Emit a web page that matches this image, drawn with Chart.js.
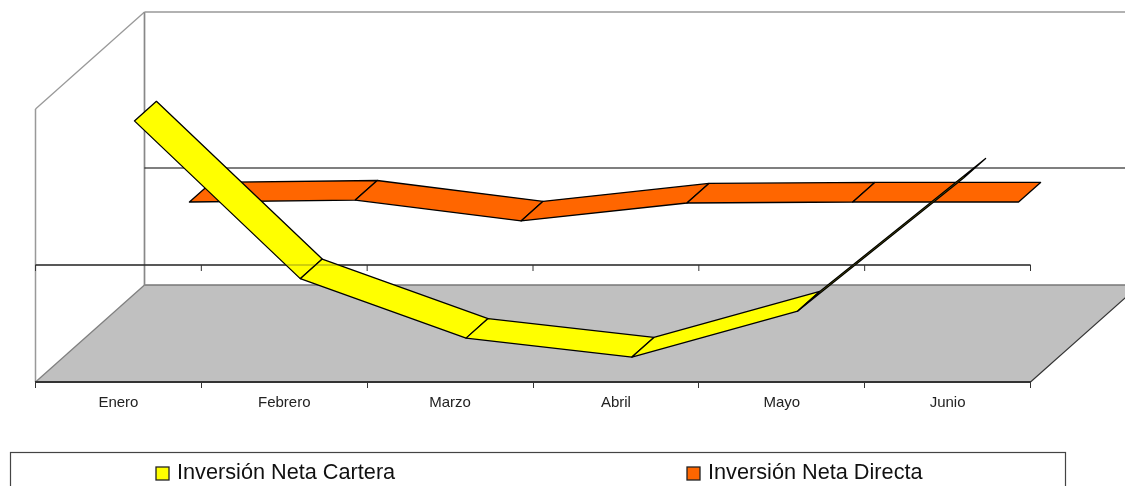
<!DOCTYPE html>
<html lang="es">
<head>
<meta charset="utf-8">
<title>Inversión Neta</title>
<script src="https://cdn.jsdelivr.net/npm/chart.js@4/dist/chart.umd.min.js"></script>
<style>
  html, body { margin: 0; padding: 0; background: #fff; overflow: hidden; }
  canvas { display: block; }
</style>
</head>
<body>
<canvas id="grafico" width="1125" height="486"></canvas>
<script>
const meses = ['Enero', 'Febrero', 'Marzo', 'Abril', 'Mayo', 'Junio'];
const inversionCartera = [3330, -715, -2240, -2725, -1545, 1865];
const inversionDirecta = [-5, 45, -490, -30, -5, -5];

// Profundidad del efecto 3D en pixeles
const fondoX = 109;
const fondoY = 97;
const pendiente = fondoY / fondoX;

const FUENTE = '"Liberation Sans", Arial, sans-serif';

function poligono(ctx, puntos, relleno, borde, grosor) {
  ctx.beginPath();
  puntos.forEach((p, i) => (i === 0 ? ctx.moveTo(p[0], p[1]) : ctx.lineTo(p[0], p[1])));
  ctx.closePath();
  if (relleno) {
    ctx.fillStyle = relleno;
    ctx.fill();
  }
  if (borde) {
    ctx.strokeStyle = borde;
    ctx.lineWidth = grosor;
    ctx.stroke();
  }
}

function linea(ctx, x1, y1, x2, y2, color, grosor) {
  ctx.beginPath();
  ctx.moveTo(x1, y1);
  ctx.lineTo(x2, y2);
  ctx.strokeStyle = color;
  ctx.lineWidth = grosor;
  ctx.stroke();
}

// Paredes y piso
const paredes = {
  id: 'paredes',
  beforeDraw(chart) {
    const { ctx, chartArea: a, scales } = chart;
    const cero = scales.y.getPixelForValue(0);
    ctx.save();
    poligono(ctx, [
      [a.left, a.bottom],
      [a.left + fondoX, a.bottom - fondoY],
      [a.right + fondoX, a.bottom - fondoY],
      [a.right, a.bottom]
    ], '#C0C0C0');
    linea(ctx, a.left, a.bottom, a.left + fondoX, a.bottom - fondoY, '#808080', 1.3);
    linea(ctx, a.left + fondoX, a.bottom - fondoY, a.right + fondoX, a.bottom - fondoY, '#777', 1.6);
    linea(ctx, a.right, a.bottom, a.right + fondoX, a.bottom - fondoY, '#333', 1.1);
    // pared izquierda
    linea(ctx, a.left, a.bottom, a.left, a.top, '#999', 1.5);
    linea(ctx, a.left, a.top, a.left + fondoX, a.top - fondoY, '#999', 1.3);
    // pared del fondo
    linea(ctx, a.left + fondoX, a.top - fondoY, a.left + fondoX, a.bottom - fondoY, '#888', 1.7);
    linea(ctx, a.left + fondoX, a.top - fondoY, a.right + fondoX, a.top - fondoY, '#999', 1.5);
    linea(ctx, a.left + fondoX, cero - fondoY, a.right + fondoX, cero - fondoY, '#000', 1.1);
    ctx.restore();
  },
  beforeDatasetsDraw(chart) {
    const { ctx, chartArea: a, scales } = chart;
    const cero = scales.y.getPixelForValue(0);
    ctx.save();
    linea(ctx, a.left, cero, a.right, cero, '#333', 1.6);
    const ancho = (a.right - a.left) / meses.length;
    for (let i = 0; i <= meses.length; i++) {
      linea(ctx, a.left + ancho * i, cero, a.left + ancho * i, cero + 6, '#333', 1);
    }
    ctx.restore();
  }
};

// Cintas 3D: cada serie se dibuja a su propia profundidad
const cintas = {
  id: 'cintas',
  afterDatasetsDraw(chart) {
    const { ctx, chartArea: a, scales } = chart;
    ctx.save();
    ctx.lineJoin = 'round';
    chart.data.datasets.slice().reverse().forEach(ds => {
      const frente = ds.data.map((v, i) => [
        scales.x.getPixelForValue(i) + ds.desde,
        scales.y.getPixelForValue(v) - ds.desde * pendiente
      ]);
      const atras = ds.data.map((v, i) => [
        scales.x.getPixelForValue(i) + ds.hasta,
        scales.y.getPixelForValue(v) - ds.hasta * pendiente
      ]);
      for (let i = 0; i < frente.length - 1; i++) {
        poligono(ctx, [frente[i], frente[i + 1], atras[i + 1], atras[i]], ds.backgroundColor, '#000', 1.3);
      }
    });
    // el eje se transparenta un poco sobre la cinta
    const cero = scales.y.getPixelForValue(0);
    linea(ctx, a.left, cero, a.right, cero, 'rgba(40,40,40,0.3)', 1.5);
    ctx.restore();
  }
};

// Leyenda con marco, cortada por el borde inferior como en el original
const leyenda = {
  id: 'leyenda',
  afterDraw(chart) {
    const { ctx, data } = chart;
    ctx.save();
    ctx.strokeStyle = '#444';
    ctx.lineWidth = 1.2;
    ctx.strokeRect(10.5, 452.5, 1055, 50);
    ctx.font = '21.7px ' + FUENTE;
    ctx.textBaseline = 'middle';
    ctx.textAlign = 'left';
    const posiciones = [156, 687];
    data.datasets.forEach((ds, i) => {
      const x = posiciones[i];
      ctx.fillStyle = ds.backgroundColor;
      ctx.fillRect(x, 467, 13, 13);
      ctx.strokeStyle = '#222';
      ctx.lineWidth = 1.3;
      ctx.strokeRect(x, 467, 13, 13);
      ctx.fillStyle = '#111';
      ctx.fillText(ds.label, x + 21, 473);
    });
    ctx.restore();
  }
};

new Chart(document.getElementById('grafico'), {
  type: 'line',
  data: {
    labels: meses,
    datasets: [
      { label: 'Inversión Neta Cartera', data: inversionCartera, backgroundColor: '#FFFF00', desde: 16, hasta: 38, showLine: false, pointRadius: 0 },
      { label: 'Inversión Neta Directa', data: inversionDirecta, backgroundColor: '#FF6600', desde: 71, hasta: 93, showLine: false, pointRadius: 0 }
    ]
  },
  options: {
    responsive: false,
    animation: false,
    devicePixelRatio: 1,
    layout: { padding: { left: 35.5, right: 94.5, top: 109, bottom: 0 } },
    plugins: { legend: { display: false }, tooltip: { enabled: false } },
    scales: {
      x: {
        type: 'category',
        offset: true,
        afterFit: s => { s.height = 104; },
        border: { color: '#333', width: 2 },
        grid: { offset: true, drawOnChartArea: false, color: '#333', tickLength: 6 },
        ticks: { color: '#222', font: { family: FUENTE, size: 15 }, padding: 6, maxRotation: 0 }
      },
      y: { display: false, min: -3000, max: 4000 }
    }
  },
  plugins: [paredes, cintas, leyenda]
});
</script>
</body>
</html>
